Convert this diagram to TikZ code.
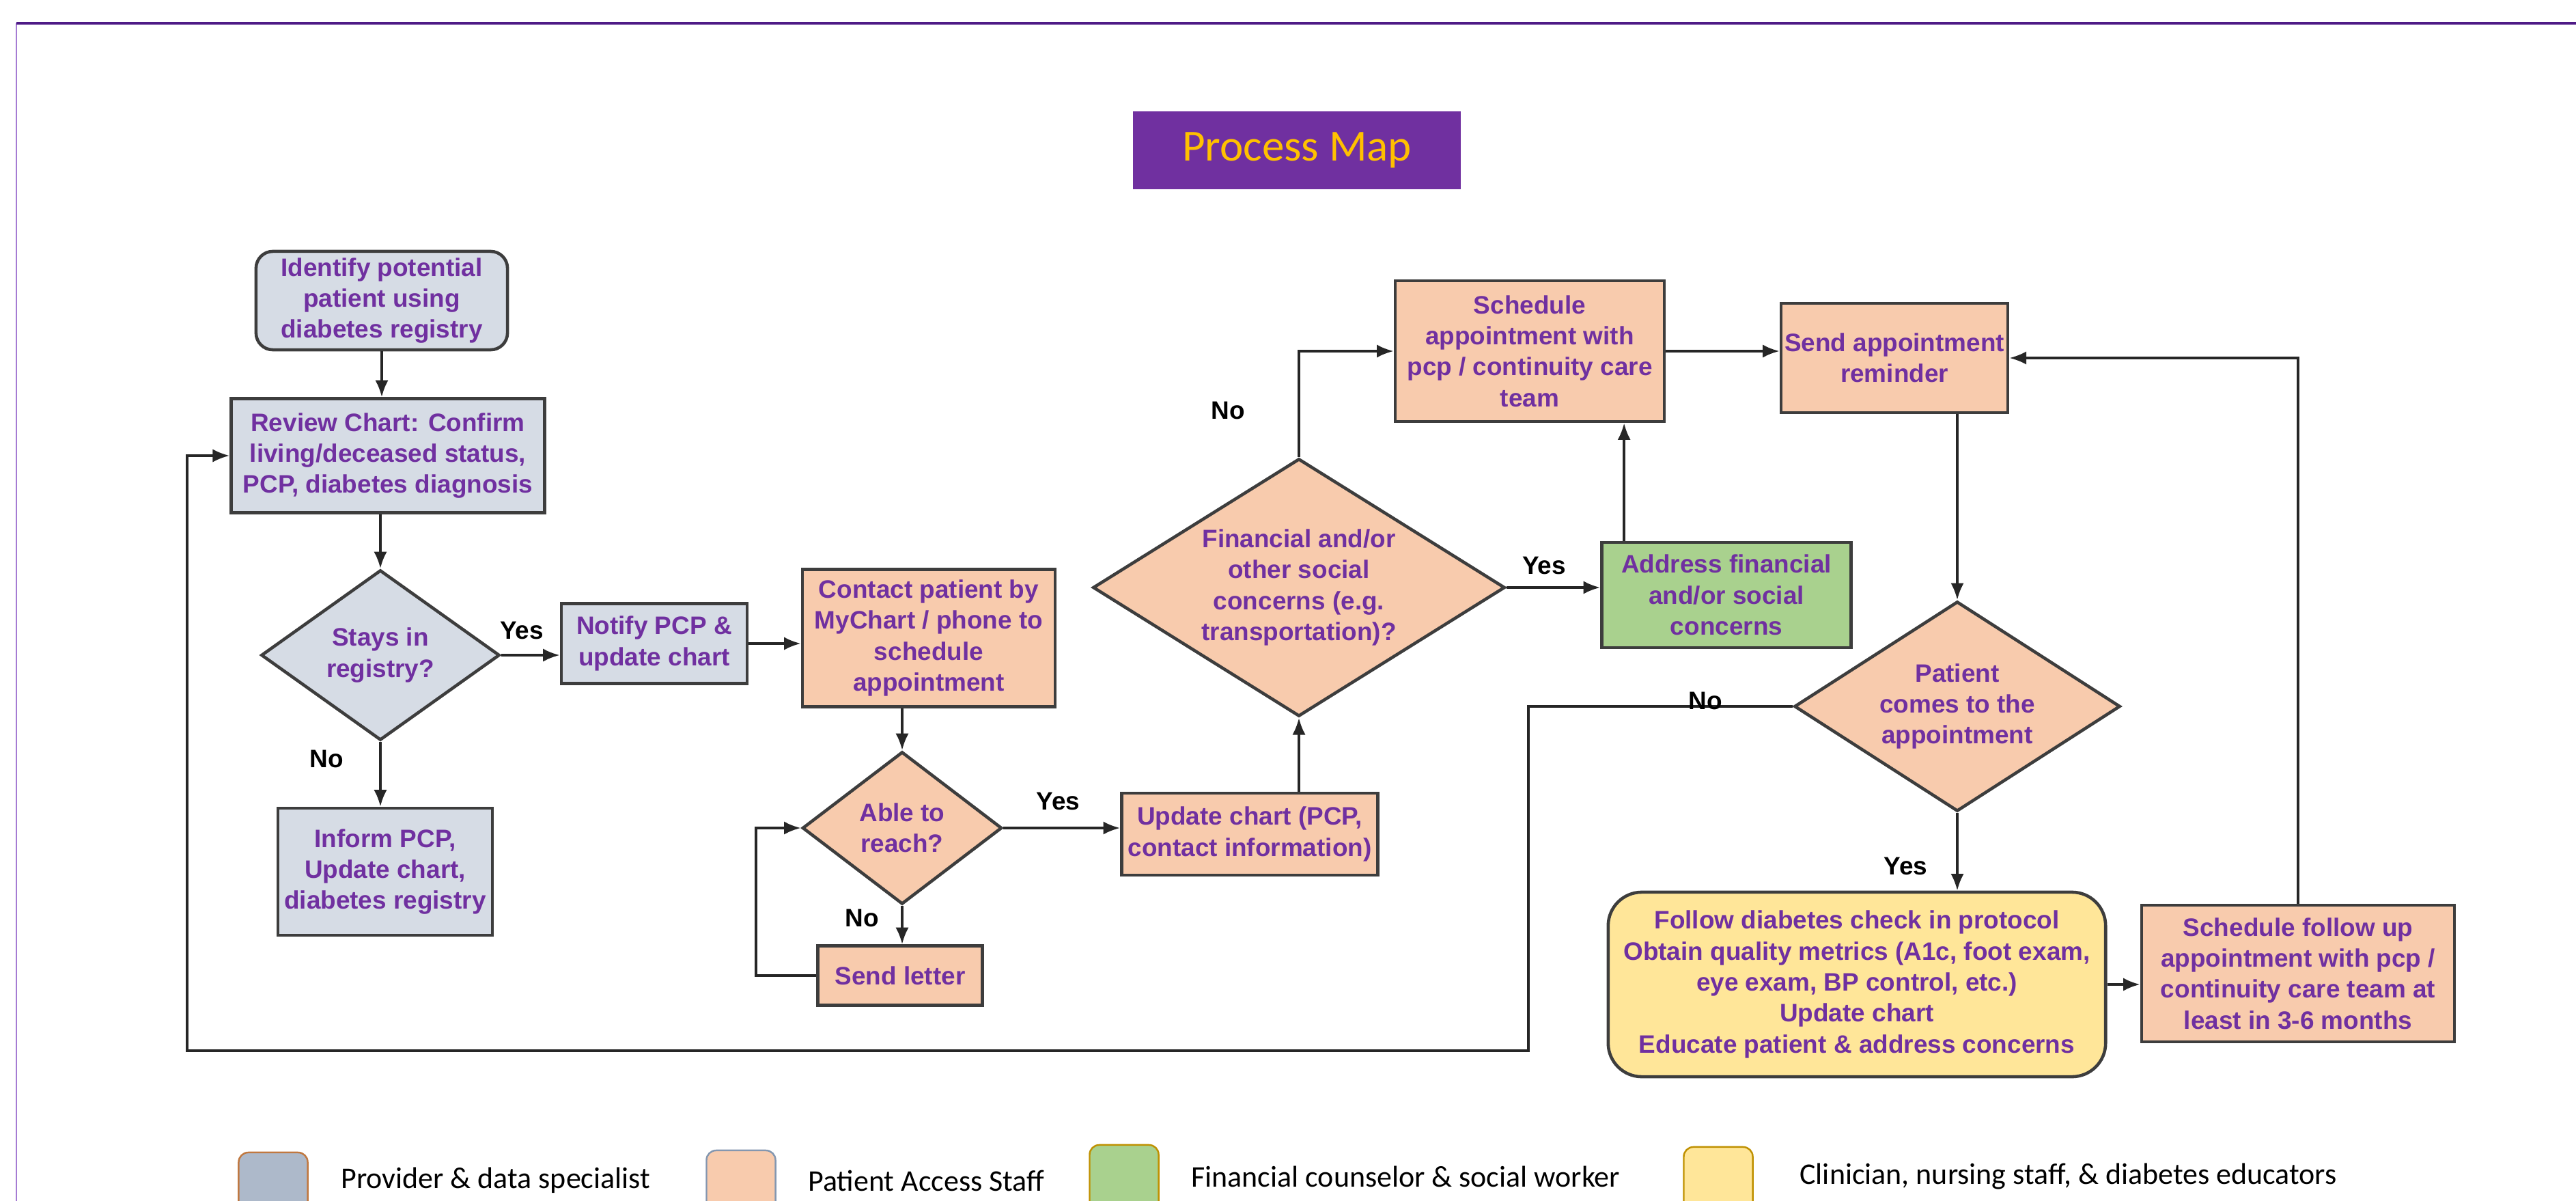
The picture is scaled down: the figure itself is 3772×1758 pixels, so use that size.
\documentclass[tikz,border=0pt]{standalone}
\usepackage{fontspec}
\setmainfont{Liberation Sans}
\newfontfamily\calibri{Carlito}
\usepackage{tikz}
\usetikzlibrary{shapes.geometric,arrows.meta,positioning,calc}
\usepackage{xcolor}

\definecolor{pmpurple}{HTML}{7030A0}
\definecolor{pmgold}{HTML}{FFC000}
\definecolor{boxline}{HTML}{3D3D3D}
\definecolor{provfill}{HTML}{D6DCE5}
\definecolor{accfill}{HTML}{F8CBAD}
\definecolor{finfill}{HTML}{A9D18E}
\definecolor{clinfill}{HTML}{FFE699}
\definecolor{keyblue}{HTML}{ADB9CA}
\definecolor{keybrown}{HTML}{C07840}
\definecolor{keyslate}{HTML}{8497B0}
\definecolor{keygold}{HTML}{BF9000}
\definecolor{frametop}{HTML}{4E1A86}
\definecolor{frameside}{HTML}{A57BD3}

\begin{document}
\begin{tikzpicture}[x=0.01cm, y=-0.01cm,
    box/.style={rectangle, draw=boxline, line width=1.3pt, inner sep=1pt, align=center, text=pmpurple, font=\fontsize{10.5}{12.9}\selectfont\bfseries},
    dec/.style={diamond, draw=boxline, line width=1.3pt, inner sep=0pt, align=center, text=pmpurple, font=\fontsize{10.5}{12.9}\selectfont\bfseries},
    provider/.style={fill=provfill},
    access/.style={fill=accfill},
    finance/.style={fill=finfill},
    clinic/.style={fill=clinfill},
    arr/.style={draw=black!85, line width=1pt, -{Latex[length=7pt,width=5.5pt]}},
    lbl/.style={font=\fontsize{10.5}{12.9}\selectfont\bfseries, inner sep=2pt},
    key/.style={rounded corners=4pt, line width=0.7pt, minimum width=1.01cm, minimum height=1.2cm},
    keytext/.style={anchor=west, font=\calibri\fontsize{12.5}{15}\selectfont}
]
    \useasboundingbox (0,0) rectangle (3772,1758);
    \draw[frameside, line width=0.4pt] (24,34) -- (24,1758);
    \draw[frametop, line width=0.9pt] (24,34) -- (3772,34);

    \node[fill=pmpurple, text=pmgold, minimum width=4.79cm, minimum height=1.14cm, font=\calibri\fontsize{18.5}{22}\selectfont] (title) at (1899,220) {Process Map};

    \node[box, provider, rounded corners=7pt, minimum width=3.68cm, minimum height=1.44cm] (ident) at (559,440) {Identify potential\\patient using\\diabetes registry};
    \node[box, provider, minimum width=4.59cm, minimum height=1.67cm] (review) at (568,667) {Review Chart: Confirm\\living/deceased status,\\PCP, diabetes diagnosis};
    \node[dec, provider, aspect=1.4, minimum width=3.49cm, minimum height=2.49cm] (stays) at (557,959) {Stays in\\registry?};
    \node[box, provider, minimum width=2.72cm, minimum height=1.17cm] (notify) at (958,942) {Notify PCP \&\\update chart};
    \node[box, provider, minimum width=3.14cm, minimum height=1.86cm] (inform) at (564,1276) {Inform PCP,\\Update chart,\\diabetes registry};

    \node[box, access, minimum width=3.70cm, minimum height=2.01cm] (contact) at (1360,934) {Contact patient by\\MyChart / phone to\\schedule\\appointment};
    \node[dec, access, aspect=1.31, minimum width=2.92cm, minimum height=2.23cm] (able) at (1321,1212) {Able to\\reach?};
    \node[box, access, minimum width=2.41cm, minimum height=0.87cm] (letter) at (1318,1428) {Send letter};
    \node[box, access, minimum width=3.75cm, minimum height=1.20cm] (update) at (1830,1221) {Update chart (PCP,\\contact information)};
    \node[dec, access, aspect=1.6, minimum width=6.03cm, minimum height=3.77cm] (fin) at (1902,860) {Financial and/or\\other social\\concerns (e.g.\\transportation)?};
    \node[box, access, minimum width=3.94cm, minimum height=2.06cm] (sched) at (2240,514) {Schedule\\appointment with\\pcp / continuity care\\team};
    \node[box, finance, minimum width=3.65cm, minimum height=1.54cm] (addr) at (2528,871) {Address financial\\and/or social\\concerns};
    \node[box, access, minimum width=3.32cm, minimum height=1.60cm] (remind) at (2774,524) {Send appointment\\reminder};
    \node[dec, access, aspect=1.55, minimum width=4.77cm, minimum height=3.07cm] (comes) at (2866,1034) {Patient\\comes to the\\appointment};
    \node[box, clinic, rounded corners=14pt, minimum width=7.28cm, minimum height=2.70cm] (follow) at (2719,1441) {Follow diabetes check in protocol\\Obtain quality metrics (A1c, foot exam,\\eye exam, BP control, etc.)\\Update chart\\Educate patient \& address concerns};
    \node[box, access, minimum width=4.58cm, minimum height=2.00cm] (fup) at (3365,1425) {Schedule follow up\\appointment with pcp /\\continuity care team at\\least in 3-6 months};

    \coordinate (backR) at (2238,1538);
    \coordinate (backL) at (274,1538);

    \draw[arr] (ident.south) -- (ident.south |- review.north);
    \draw[arr] (review.south -| stays.north) -- (stays.north);
    \draw[arr] (stays.east) -- node[lbl, above=4pt, pos=0.35] {Yes} (stays.east -| notify.west);
    \draw[arr] (stays.south) -- node[lbl, left=0.45cm, pos=0.27] {No} (stays.south |- inform.north);
    \draw[arr] (notify.east) -- (notify.east -| contact.west);
    \draw[arr] (contact.south -| able.north) -- (able.north);
    \draw[arr] (able.east) -- node[lbl, above=5pt, pos=0.47] {Yes} (able.east -| update.west);
    \draw[arr] (able.south) -- node[lbl, left=0.25cm, pos=0.33] {No} (able.south |- letter.north);
    \draw[arr] (letter.west) -- ++(-88,0) |- (able.west);
    \draw[arr] (update.north -| fin.south) -- (fin.south);
    \draw[arr] (fin.north) |- node[lbl, left=0.7cm, pos=0.22] {No} (sched.west);
    \draw[arr] (fin.east) -- node[lbl, above=3pt, pos=0.4] {Yes} (fin.east -| addr.west);
    \draw[arr] ([xshift=0.35cm]addr.north west) -- ([xshift=0.35cm]addr.north west |- sched.south);
    \draw[arr] (sched.east) -- (sched.east -| remind.west);
    \draw[arr] (remind.south -| comes.north) -- (comes.north);
    \draw[arr] (comes.west) -- node[lbl, above, inner sep=0pt, yshift=-2pt, pos=0.33] {No} (comes.west -| backR) -- (backR) -- (backL) |- (review.west);
    \draw[arr] (comes.south) -- node[lbl, left=0.35cm, pos=0.69] {Yes} (comes.south |- follow.north);
    \draw[arr] (follow.east) -- (follow.east -| fup.west);
    \draw[arr] (fup.north) |- (remind.east);

    \begin{scope}
        \clip (0,0) rectangle (3772,1758);
        \node[key, fill=keyblue, draw=keybrown] (keyA) at (400,1747) {};
        \node[key, fill=accfill, draw=keyslate] (keyB) at (1085,1744) {};
        \node[key, fill=finfill, draw=keygold] (keyC) at (1646,1736) {};
        \node[key, fill=clinfill, draw=keygold] (keyD) at (2516,1739) {};
    \end{scope}
    \node[keytext] (txtA) at (487,1728) {Provider \& data specialist};
    \node[keytext] (txtB) at (1171,1728) {Patient Access Staff};
    \node[keytext] (txtC) at (1732,1722) {Financial counselor \& social worker};
    \node[keytext] (txtD) at (2623,1722) {Clinician, nursing staff, \& diabetes educators};
\end{tikzpicture}
\end{document}
